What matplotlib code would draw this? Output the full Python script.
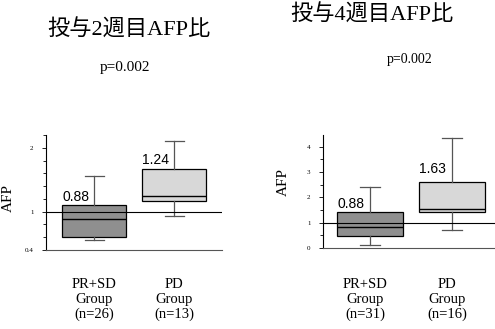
import matplotlib
matplotlib.use("Agg")
import matplotlib.pyplot as plt
import matplotlib.transforms as mtransforms
from matplotlib.ticker import MultipleLocator, FixedLocator

W, H = 495, 329

# week 2 panel
wk2_title = "投与2週目AFP比"
wk2_groups = ["PR+SD\nGroup\n(n=26)", "PD\nGroup\n(n=13)"]
wk2_q1 = [0.61, 1.16]
wk2_med = [0.89, 1.25]
wk2_q3 = [1.11, 1.67]
wk2_lo = [0.56, 0.94]
wk2_hi = [1.56, 2.11]
wk2_text = ["0.88", "1.24"]
wk2_ticks = [0.4, 1, 2]
wk2_ticklabels = ["0.4", "1", "2"]

# week 4 panel
wk4_title = "投与4週目AFP比"
wk4_groups = ["PR+SD\nGroup\n(n=31)", "PD\nGroup\n(n=16)"]
wk4_q1 = [0.48, 1.43]
wk4_med = [0.84, 1.55]
wk4_q3 = [1.43, 2.61]
wk4_lo = [0.13, 0.72]
wk4_hi = [2.41, 4.34]
wk4_text = ["0.88", "1.63"]
wk4_ticks = [0, 1, 2, 3, 4]
wk4_ticklabels = ["0", "1", "2", "3", "4"]

p_text = "p=0.002"
box_colors = ["#8f8f8f", "#d8d8d8"]

SERIF = ["Liberation Serif", "Noto Sans CJK JP"]
SANS = ["Liberation Sans"]


def px_rect(x0, y0, x1, y1):
    return [x0 / W, 1 - y1 / H, (x1 - x0) / W, (y1 - y0) / H]


def panel(ax, q1, med, q3, lo, hi, texts, groups, ylim, ticks, ticklabels,
          minor, xlim, text_dy, label_xy, group_dx):
    stats = []
    for i in range(len(q1)):
        stats.append(dict(med=med[i], q1=q1[i], q3=q3[i],
                          whislo=lo[i], whishi=hi[i], fliers=[]))
    pos = [1, 2]
    bp = ax.bxp(stats, positions=pos, widths=0.8, patch_artist=True,
                showfliers=False, manage_ticks=False,
                boxprops=dict(edgecolor="black", linewidth=0.9),
                medianprops=dict(color="black", linewidth=1.0),
                whiskerprops=dict(color="#555555", linewidth=0.9),
                capprops=dict(color="#555555", linewidth=0.9),
                capwidths=0.24)
    for patch, c in zip(bp["boxes"], box_colors):
        patch.set_facecolor(c)
    ax.axhline(1, color="black", linewidth=0.8, zorder=3)

    for i, t in enumerate(texts):
        ax.annotate(t, (pos[i] - 0.4, q3[i]), xytext=(0, text_dy[i]),
                    textcoords="offset points", ha="left", va="bottom",
                    fontsize=10, family=SANS)

    ax.set_xlim(*xlim)
    ax.set_ylim(*ylim)
    ax.set_xticks([])
    ax.yaxis.set_major_locator(FixedLocator(ticks))
    ax.set_yticklabels(ticklabels, family=SERIF, fontsize=5)
    ax.yaxis.set_minor_locator(MultipleLocator(minor))
    ax.tick_params(axis="y", which="major", direction="out", length=3, width=0.6, pad=6)
    ax.tick_params(axis="y", which="minor", direction="out", length=2, width=0.6)
    for s in ["top", "right"]:
        ax.spines[s].set_visible(False)
    ax.spines["left"].set_linewidth(0.8)
    ax.spines["bottom"].set_linewidth(0.8)
    ax.spines["bottom"].set_color("#555555")

    ax.set_ylabel("AFP", family=SERIF, fontsize=11)
    ax.yaxis.set_label_coords(*label_xy)

    tr = mtransforms.blended_transform_factory(ax.transData, ax.figure.transFigure)
    for i, g in enumerate(groups):
        ax.text(pos[i] + group_dx, 1 - 278 / H, g, transform=tr, ha="center",
                va="top", fontsize=10.5, family=SERIF, linespacing=1.15)


fig = plt.figure(figsize=(W / 100, H / 100), dpi=100)

ax1 = fig.add_axes(px_rect(46, 135, 222, 250))
panel(ax1, wk2_q1, wk2_med, wk2_q3, wk2_lo, wk2_hi, wk2_text, wk2_groups,
      (0.4, 2.2), wk2_ticks, wk2_ticklabels, 0.2, (0.394, 2.594),
      [0.3, 1.0], (-31 / 176, 0.45), 0.0)

ax2 = fig.add_axes(px_rect(323, 135, 495, 248))
panel(ax2, wk4_q1, wk4_med, wk4_q3, wk4_lo, wk4_hi, wk4_text, wk4_groups,
      (0, 4.46), wk4_ticks, wk4_ticklabels, 0.5, (0.427, 2.52),
      [0.8, 4], (-33 / 172, 0.58), -0.06)

fig.text(129 / W, 1 - 30 / H, wk2_title, ha="center", va="center",
         fontsize=16, family=SERIF)
fig.text(372 / W, 1 - 15 / H, wk4_title, ha="center", va="center",
         fontsize=16, family=SERIF)
fig.text(125 / W, 1 - 68 / H, p_text, ha="center", va="center",
         fontsize=11, family=SERIF)
fig.text(410 / W, 1 - 60 / H, p_text, ha="center", va="center",
         fontsize=10, family=SERIF)

fig.savefig("out.png", dpi=100)
